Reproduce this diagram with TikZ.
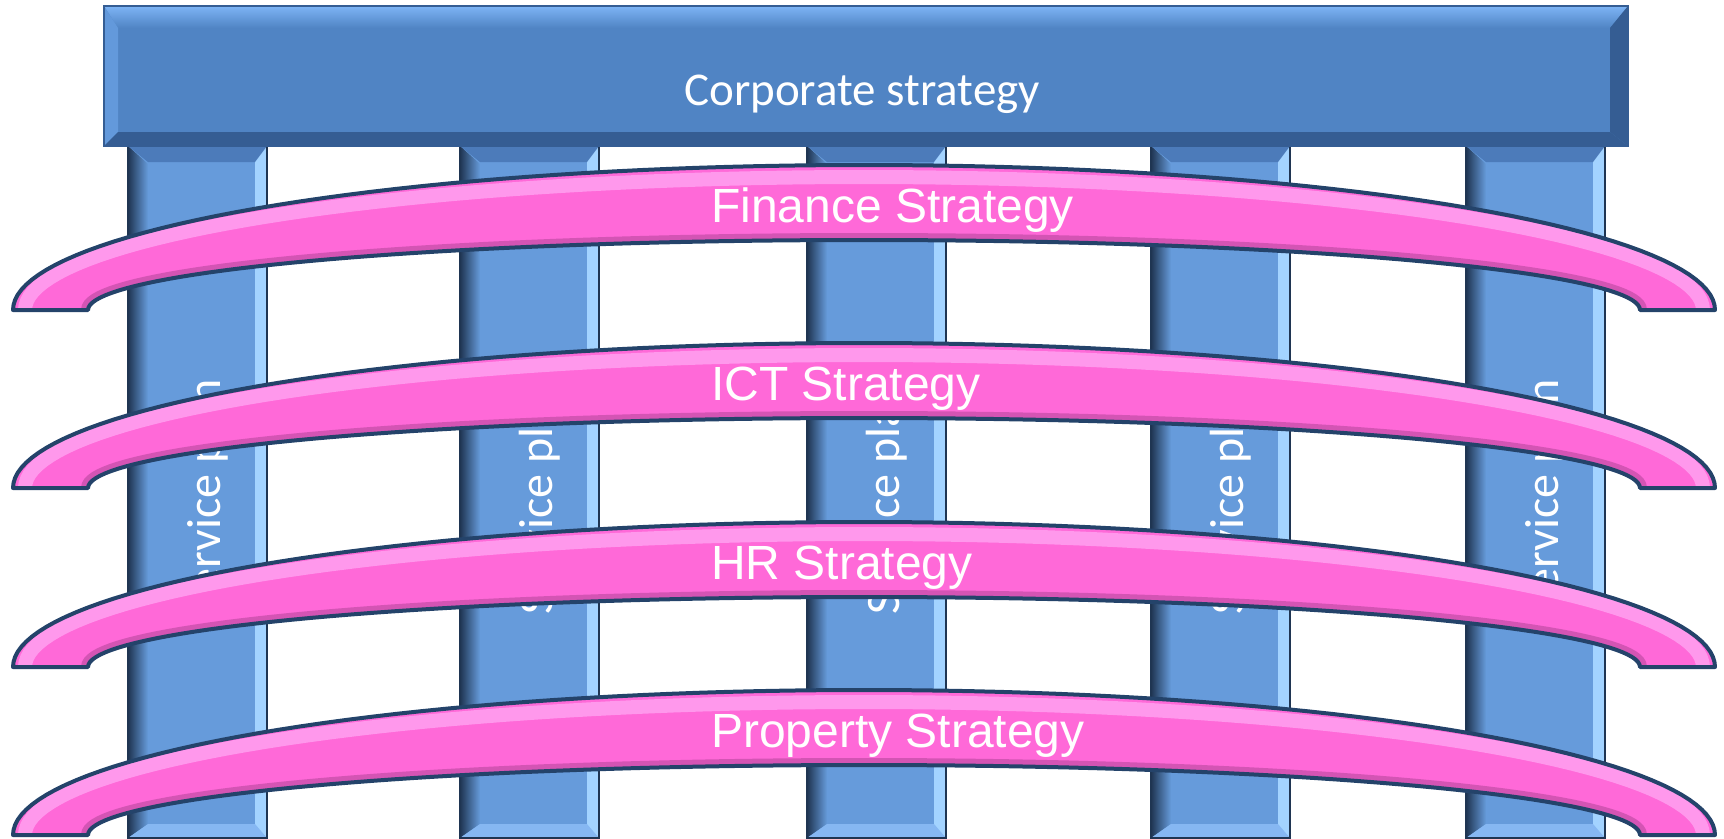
\documentclass[tikz,border=0pt]{standalone}
\usepackage{fontspec}
\setmainfont{Liberation Sans}
\newfontfamily\calibrifont{Carlito}

\definecolor{barblue}{HTML}{5084C4}
\definecolor{barlight}{HTML}{7DB4F5}
\definecolor{barside}{HTML}{6399DB}
\definecolor{bardark}{HTML}{355D93}
\definecolor{pillarblue}{HTML}{669BDB}
\definecolor{pillarlight}{HTML}{A3D3FF}
\definecolor{pillartop}{HTML}{4C7BBA}
\definecolor{pillarfoot}{HTML}{86B7F2}
\definecolor{navy}{HTML}{1F3552}
\definecolor{bandpink}{HTML}{FF69D8}
\definecolor{bandlight}{HTML}{FFA8F4}
\definecolor{banddark}{HTML}{B8479C}
\definecolor{bandedge}{HTML}{24436A}

\tikzset{
  bartext/.style={text=white, font=\calibrifont\fontsize{47}{56}\selectfont, inner sep=0pt, anchor=base},
  plantext/.style={text=white, font=\calibrifont\fontsize{48}{56}\selectfont, inner sep=0pt, anchor=base, rotate=90},
  bandtext/.style={text=white, font=\fontsize{48}{56}\selectfont, inner sep=0pt, anchor=base west},
  % curved strategy band, #1 = bottom of its two tips
  band/.style={insert path={
    plot[domain=180:360, samples=90] ({864+851*cos(\x)}, {#1+145*sin(\x)})
    -- plot[domain=360:180, samples=90] ({864+776*cos(\x)}, {#1+70*sin(\x)}) -- cycle}},
}

\begin{document}
\begin{tikzpicture}[x=1pt, y=-1pt]
  \useasboundingbox (0,0) rectangle (1724,838);

  % service plan pillars
  \foreach \px [count=\i] in {128,460,807,1151,1466} {
    \fill[pillarblue] (\px,146) rectangle ++(139,692);
    \shade[left color=navy, right color=pillarblue]
      (\px,146) -- (\px+20,164) -- (\px+20,824) -- (\px,838) -- cycle;
    \fill[pillarlight] (\px+139,146) -- (\px+127,158) -- (\px+127,826) -- (\px+139,838) -- cycle;
    \fill[pillartop] (\px,146) -- (\px+139,146) -- (\px+127,162) -- (\px+20,162) -- cycle;
    \fill[pillarfoot] (\px,838) -- (\px+139,838) -- (\px+127,824) -- (\px+20,824) -- cycle;
    \draw[navy, line width=2] (\px,146) rectangle ++(139,692);
    \node[plantext] (plan\i) at (\px+92,497) {Service plan};
  }

  % corporate strategy bar
  \fill[barblue] (104,6) rectangle (1628,146);
  \shade[top color=barlight, bottom color=barblue] (104,6) -- (1628,6) -- (1610,28) -- (118,28) -- cycle;
  \fill[barside] (104,6) -- (118,28) -- (118,132) -- (104,146) -- cycle;
  \fill[bardark] (1628,6) -- (1610,28) -- (1610,132) -- (1628,146) -- cycle;
  \fill[bardark] (104,146) -- (118,132) -- (1610,132) -- (1628,146) -- cycle;
  \draw[bardark, line width=1.5] (104,6) rectangle (1628,146);
  \node[bartext] (corp) at (862,105) {Corporate strategy};

  % strategy bands
  \foreach \cy/\name/\label in {310/fin/Finance Strategy, 488/ict/ICT Strategy,
                                 667/hr/HR Strategy, 835/prop/Property Strategy} {
    \fill[bandpink, band=\cy];
    \begin{scope}
      \clip[band=\cy];
      \draw[bandlight, line width=14, opacity=0.75]
        plot[domain=180:360, samples=90] ({864+839*cos(\x)}, {\cy+133*sin(\x)});
      \draw[banddark, line width=14, opacity=0.6]
        plot[domain=180:360, samples=90] ({864+776*cos(\x)}, {\cy+70*sin(\x)});
    \end{scope}
    \draw[bandedge, line width=4, line join=round, band=\cy];
    \node[bandtext] (\name) at (711,\cy-88) {\label};
  }
\end{tikzpicture}
\end{document}
